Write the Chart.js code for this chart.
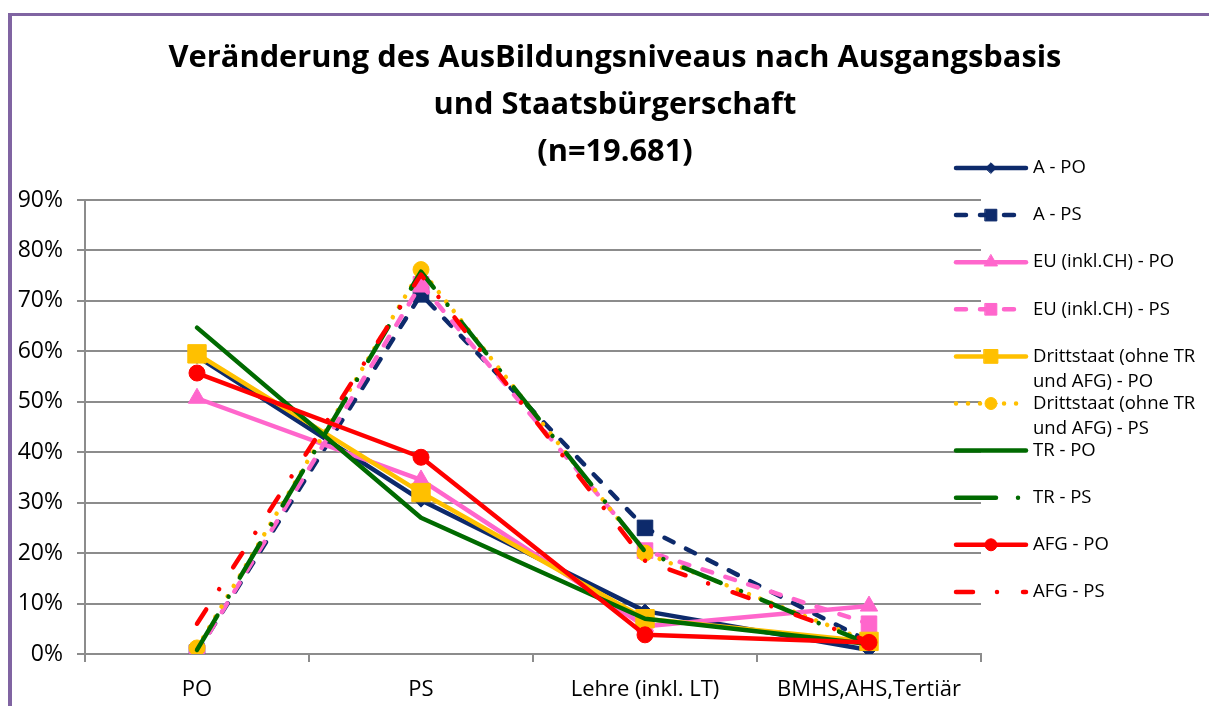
<!DOCTYPE html>
<html>
<head>
<meta charset="utf-8">
<script src="https://cdn.jsdelivr.net/npm/chart.js@4.4.0/dist/chart.umd.min.js"></script>
<style>
  body { margin: 0; background: #fff; }
  #wrap { position: relative; width: 1209px; height: 706px; }
  #rahmen { position: absolute; left: 8px; top: 13px; right: 0; bottom: 0;
            border-left: 4px solid #8064a2; border-top: 3px solid #8064a2; pointer-events: none; }
  canvas { position: absolute; left: 0; top: 0; }
</style>
</head>
<body>
<div id="wrap">
  <canvas id="grafico" width="1209" height="706"></canvas>
  <div id="rahmen"></div>
</div>
<script>
// Kategorien und Werte (in %)
const kategorien = ["PO", "PS", "Lehre (inkl. LT)", "BMHS,AHS,Tertiär"];

const aPO   = [59, 30.5, 8.5, 0.8];
const aPS   = [0.3, 71.3, 25, 2.5];
const euPO  = [50.7, 34.5, 5.5, 9.5];
const euPS  = [0.2, 73.3, 20.5, 6];
const drPO  = [59.5, 32, 7, 2.5];
const drPS  = [1.2, 76.2, 20, 2.5];
const trPO  = [64.7, 27, 7, 2];
const trPS  = [0.8, 75.8, 20.3, 2];
const afgPO = [55.7, 39, 3.8, 2.3];
const afgPS = [6, 75.2, 18.5, 2.5];

const serien = [
    "A - PO", "A - PS", "EU (inkl.CH) - PO", "EU (inkl.CH) - PS",
    "Drittstaat (ohne TR und AFG) - PO", "Drittstaat (ohne TR und AFG) - PS",
    "TR - PO", "TR - PS", "AFG - PO", "AFG - PS"
];
const legendeZeilen = [
    ["A - PO"], ["A - PS"], ["EU (inkl.CH) - PO"], ["EU (inkl.CH) - PS"],
    ["Drittstaat (ohne TR", "und AFG) - PO"], ["Drittstaat (ohne TR", "und AFG) - PS"],
    ["TR - PO"], ["TR - PS"], ["AFG - PO"], ["AFG - PS"]
];

const yTicks = [0, 10, 20, 30, 40, 50, 60, 70, 80, 90];
const titel = ["Veränderung des AusBildungsniveaus nach Ausgangsbasis", "und Staatsbürgerschaft", "(n=19.681)"];

const NAVY = "#0d2a6b", PINK = "#ff66cc", GELB = "#ffc000", GRUEN = "#006a00", ROT = "#ff0000";
const SCHRIFT = "'Open Sans', sans-serif";

function serie(i, daten, farbe, dash, punkt, radius) {
    return {
        label: serien[i],
        data: daten,
        borderColor: farbe,
        backgroundColor: farbe,
        borderWidth: 4.5,
        borderDash: dash,
        borderCapStyle: "round",
        borderJoinStyle: "round",
        pointStyle: punkt || "circle",
        pointRadius: punkt ? radius : 0,
        pointHoverRadius: punkt ? radius : 0,
        pointBorderWidth: 1,
        tension: 0,
        order: 20 - i
    };
}

const datasets = [
    serie(0, aPO, NAVY, [], "rectRot", 7),
    serie(1, aPS, NAVY, [10, 14], "rect", 11),
    serie(2, euPO, PINK, [], "triangle", 10),
    serie(3, euPS, PINK, [10, 14], "rect", 11),
    serie(4, drPO, GELB, [], "rect", 13),
    serie(5, drPS, GELB, [0.01, 12], "circle", 8),
    serie(6, trPO, GRUEN, [], null, 0),
    serie(7, trPS, GRUEN, [40, 22, 0.01, 22], null, 0),
    serie(8, afgPO, ROT, [], "circle", 8),
    serie(9, afgPS, ROT, [17, 24, 0.01, 26], null, 0)
];

// Titel und Legende selbst zeichnen
const extras = {
    id: "extras",
    afterDraw(chart) {
        const ctx = chart.ctx;
        ctx.save();
        // Titel
        ctx.fillStyle = "#000";
        ctx.textAlign = "center";
        ctx.textBaseline = "middle";
        ctx.font = "bold 30px " + SCHRIFT;
        const w = ctx.measureText(titel[0]).width;
        const groesse = 30 * 894 / w;
        ctx.font = "bold " + groesse.toFixed(1) + "px " + SCHRIFT;
        const titelY = [58, 105, 152];
        titel.forEach((t, i) => ctx.fillText(t, 615, titelY[i]));

        // Legende
        ctx.textAlign = "left";
        ctx.font = "18.5px " + SCHRIFT;
        chart.data.datasets.forEach((ds, i) => {
            const y = 168 + i * 47.1;
            ctx.save();
            ctx.strokeStyle = ds.borderColor;
            ctx.lineWidth = ds.borderWidth;
            ctx.lineCap = "round";
            ctx.setLineDash(ds.borderDash);
            ctx.beginPath();
            ctx.moveTo(956, y);
            ctx.lineTo(1026, y);
            ctx.stroke();
            ctx.setLineDash([]);
            if (ds.pointRadius > 0) {
                ctx.fillStyle = ds.backgroundColor;
                ctx.strokeStyle = ds.borderColor;
                ctx.lineWidth = 1;
                Chart.helpers.drawPoint(ctx, { pointStyle: ds.pointStyle, radius: ds.pointRadius * 0.75, rotation: 0, borderWidth: 1 }, 991, y);
            }
            ctx.restore();
            ctx.fillStyle = "#000";
            legendeZeilen[i].forEach((z, k) => ctx.fillText(z, 1033, y + k * 25));
        });
        ctx.restore();
    }
};

const ctx = document.getElementById("grafico").getContext("2d");
new Chart(ctx, {
    type: "line",
    data: { labels: kategorien, datasets: datasets },
    plugins: [extras],
    options: {
        responsive: false,
        animation: false,
        events: [],
        layout: { padding: { top: 200, right: 228, left: 0, bottom: 0 } },
        plugins: {
            legend: { display: false },
            title: { display: false },
            tooltip: { enabled: false }
        },
        scales: {
            x: {
                offset: true,
                grid: { offset: true, drawOnChartArea: false, drawTicks: true, tickLength: 8, color: "#8c8c8c", lineWidth: 2 },
                border: { color: "#8c8c8c", width: 2 },
                ticks: { color: "#000", font: { family: SCHRIFT, size: 22 }, padding: 15, maxRotation: 0 },
                afterFit: s => { s.height = 52; }
            },
            y: {
                min: 0,
                max: 90,
                afterBuildTicks: s => { s.ticks = yTicks.map(v => ({ value: v })); },
                grid: { color: "#8c8c8c", lineWidth: 2, tickLength: 8 },
                border: { color: "#8c8c8c", width: 2 },
                ticks: { color: "#000", font: { family: SCHRIFT, size: 23 }, padding: 14, callback: v => v + "%" },
                afterFit: s => { s.width = 85; }
            }
        }
    }
});
</script>
</body>
</html>
